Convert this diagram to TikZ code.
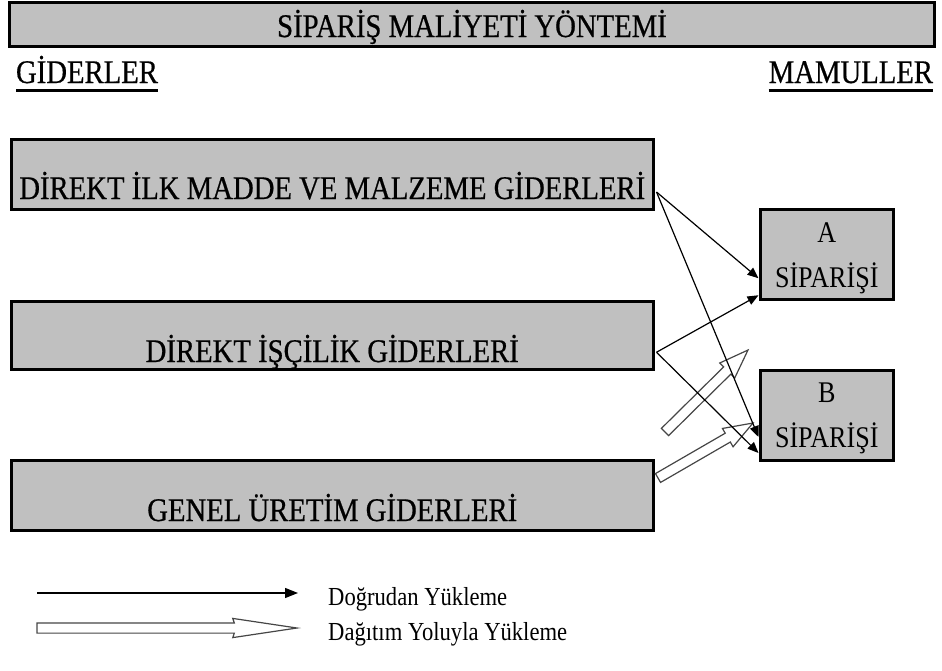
\documentclass[tikz,border=0pt]{standalone}
\usepackage{fontspec}
\setmainfont{Liberation Serif}
\newfontfamily\narrowserif[FakeStretch=0.87,FakeBold=0.6]{Liberation Serif}
\newfontfamily\legendserif[FakeStretch=0.87]{Liberation Serif}
\usetikzlibrary{arrows.meta,shapes.arrows,calc}

\definecolor{boxgray}{RGB}{192,192,192}
\definecolor{hollowedge}{RGB}{70,70,70}

\tikzset{
  graybox/.style={draw=black, line width=3pt, fill=boxgray, inner sep=0pt, outer sep=0pt,
    font=\narrowserif\fontsize{33}{36}\selectfont},
  headtext/.style={inner sep=0pt, outer sep=0pt, font=\narrowserif\fontsize{33}{36}\selectfont},
  ordertext/.style={inner sep=0pt, anchor=base, font=\legendserif\fontsize{30}{34}\selectfont},
  legendtext/.style={inner sep=0pt, anchor=base west, font=\legendserif\fontsize{26}{30}\selectfont},
  underbar/.style={line width=3pt},
  direct/.style={draw=black, line width=1.2pt, -{Triangle[length=11pt,width=9pt]}},
  hollowarr/.style={single arrow, draw=hollowedge, line width=1.2pt, fill=white,
    inner xsep=0pt, inner ysep=4.5pt, outer sep=0pt, minimum width=1pt,
    single arrow head extend=5.5pt, single arrow tip angle=40,
    single arrow head indent=0pt},
  legendhollow/.style={hollowarr, inner ysep=4.5pt, single arrow head extend=4.5pt,
    single arrow tip angle=17, single arrow head indent=1.5pt},
}

% hollow "allocation" arrow from #2 (tail) to #3 (tip)
\newcommand{\allocarrow}[3][]{%
  \path let \p1=(#2), \p2=(#3),
    \n1={atan2(\y2-\y1,\x2-\x1)}, \n2={veclen(\x2-\x1,\y2-\y1)} in
    node[hollowarr, #1, rotate=\n1, minimum height=\n2, anchor=tail] at (\p1) {};%
}

\begin{document}
\begin{tikzpicture}[x=1pt,y=-1pt]
\useasboundingbox (0,0) rectangle (942,670);

% title bar
\node[graybox, anchor=north west, minimum width=925, minimum height=43.5,
  text height=34.5pt, text depth=9pt] (title) at (9.5,2.5) {SİPARİŞ MALİYETİ YÖNTEMİ};

% column headings
\node[headtext, anchor=base west] (giderler) at (16,83) {GİDERLER};
\node[headtext, anchor=base east] (mamuller) at (933,83) {MAMULLER};
\draw[underbar] ([yshift=-7pt]giderler.base west) -- ([yshift=-7pt]giderler.base east);
\draw[underbar] ([yshift=-7pt]mamuller.base west) -- ([yshift=-7pt]mamuller.base east);

% cost boxes
\node[graybox, anchor=north west, minimum width=642.5, minimum height=70,
  text height=60pt, text depth=10pt] (direkt) at (11,139) {DİREKT İLK MADDE VE MALZEME GİDERLERİ};
\node[graybox, anchor=north west, minimum width=642.5, minimum height=67.5,
  text height=60.5pt, text depth=7pt] (iscilik) at (11,301.5) {DİREKT İŞÇİLİK GİDERLERİ};
\node[graybox, anchor=north west, minimum width=642.5, minimum height=70,
  text height=61pt, text depth=9pt] (genel) at (11,460) {GENEL ÜRETİM GİDERLERİ};

% order boxes
\node[graybox, anchor=north west, minimum width=133.5, minimum height=89.5] (sipA) at (760,209.5) {};
\node[ordertext] (sipAletter) at ([yshift=-33pt]sipA.north) {A};
\node[ordertext] (sipAname) at ([yshift=-78pt]sipA.north) {SİPARİŞİ};
\node[graybox, anchor=north west, minimum width=133.5, minimum height=90] (sipB) at (760,370) {};
\node[ordertext] (sipBletter) at ([yshift=-32pt]sipB.north) {B};
\node[ordertext] (sipBname) at ([yshift=-77pt]sipB.north) {SİPARİŞİ};

% allocated overheads (hollow arrows)
\coordinate (alloc1tail) at (665,432);
\coordinate (alloc1tip) at (748,350);
\coordinate (alloc2tail) at (658,478);
\coordinate (alloc2tip) at (753,423);
\allocarrow{alloc1tail}{alloc1tip}
\allocarrow{alloc2tail}{alloc2tip}

% direct charges
\draw[direct] ([xshift=3pt,yshift=-18pt]direkt.east) -- ([xshift=-1.5pt,yshift=-24pt]sipA.west);
\draw[direct] ([xshift=3pt,yshift=-18pt]direkt.east) -- ([xshift=-1.5pt,yshift=-22pt]sipB.west);
\draw[direct] ([xshift=3pt,yshift=-17pt]iscilik.east) -- ([xshift=-1.5pt,yshift=-41pt]sipA.west);
\draw[direct] ([xshift=3pt,yshift=-17pt]iscilik.east) -- ([xshift=-1.5pt,yshift=-38pt]sipB.west);

% legend
\coordinate (leg1tail) at (37,593);
\coordinate (leg1tip) at (298,593);
\coordinate (leg2tail) at (37,628);
\coordinate (leg2tip) at (297,628);
\draw[direct, -{Triangle[length=13pt,width=10pt]}] (leg1tail) -- (leg1tip);
\allocarrow[legendhollow]{leg2tail}{leg2tip}
\node[legendtext] (leg1text) at (328,605) {Doğrudan Yükleme};
\node[legendtext] (leg2text) at (328,640) {Dağıtım Yoluyla Yükleme};
\end{tikzpicture}
\end{document}
